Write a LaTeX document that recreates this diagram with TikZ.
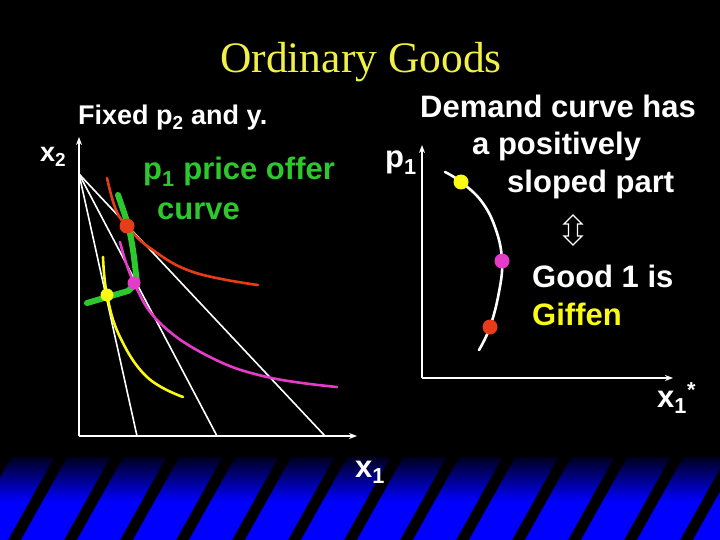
\documentclass[tikz,border=0pt]{standalone}
\usepackage{fontspec}
\setmainfont{Liberation Serif}
\setsansfont{Liberation Sans}
\usetikzlibrary{arrows.meta, shapes.arrows}

\definecolor{titleyellow}{RGB}{240,240,70}
\definecolor{offergreen}{RGB}{45,200,45}
\definecolor{curvered}{RGB}{232,60,25}
\definecolor{curvemagenta}{RGB}{228,60,200}
\definecolor{curveyellow}{RGB}{250,250,20}
\definecolor{bandtop}{RGB}{0,0,30}

\tikzset{
	txt/.style={text=white, inner sep=0pt, anchor=base west, font=\sffamily\bfseries\fontsize{31}{31}\selectfont},
	smalltxt/.style={txt, font=\sffamily\bfseries\fontsize{27}{27}\selectfont},
	axis/.style={white, line width=1.6pt, -{Stealth[length=8pt, width=6pt]}},
	budget/.style={white, line width=1.6pt},
	indiff/.style={line width=2.6pt, line cap=round},
	dot/.style={circle, inner sep=0pt, minimum size=15pt},
}

\begin{document}
\begin{tikzpicture}[x=1pt, y=-1pt]
	\useasboundingbox (0,0) rectangle (720,540);
	\fill[black] (0,0) rectangle (720,540);
	% Blue band with stripes:
	\shade[top color=bandtop, bottom color=blue] (0,457) rectangle (720,502);
	\fill[blue] (0,501) rectangle (720,540);
	\begin{scope}
		\clip (0,457) rectangle (720,540);
		\foreach \k in {-1,...,13}
			\draw[black, line width=11pt] (10+56*\k, 548) -- (62+56*\k, 455);
	\end{scope}

	% Title and texts:
	\node[text=titleyellow, inner sep=0pt, anchor=base, font=\rmfamily\fontsize{43.5}{43.5}\selectfont] (title) at (361,73) {Ordinary Goods};
	\node[smalltxt] (fixed) at (78,125) {Fixed p\textsubscript{2} and y.};
	\node[smalltxt] (xtwo) at (40,162) {x\textsubscript{2}};
	\node[txt, text=offergreen] (offer) at (143,180) {p\textsubscript{1} price offer};
	\node[txt, text=offergreen] (offercurve) at (157,219) {curve};
	\node[txt] (demand) at (420,118) {Demand curve has};
	\node[txt] (positively) at (472,155) {a positively};
	\node[txt] (sloped) at (507,193) {sloped part};
	\node[txt] (good) at (532,287) {Good 1 is};
	\node[txt, text=curveyellow] (giffen) at (532,325) {Giffen};
	\node[txt] (pone) at (385,168) {p\textsubscript{1}};
	\node[txt] (xonestar) at (657,407) {x\textsubscript{1}\textsuperscript{*}};
	\node[txt] (xone) at (355,477) {x\textsubscript{1}};
	\node[double arrow, draw=white, line width=1.3pt, rotate=90, minimum height=30pt, minimum width=18pt, inner sep=3.5pt, double arrow head extend=4pt] (iff) at (573,230) {};

	% Left diagram: axes and budget lines
	\coordinate (otwo) at (79,436);
	\coordinate (ytwo) at (79,137);
	\coordinate (xtwoend) at (357,436);
	\draw[axis] (otwo) -- (ytwo);
	\draw[axis] (otwo) -- (xtwoend);
	\coordinate (bzero) at (79,174);
	\coordinate (bsteep) at (137,436);
	\coordinate (bmid) at (217,436);
	\coordinate (bflat) at (325,436);
	\draw[budget] (bzero) -- (bsteep);
	\draw[budget] (bzero) -- (bmid);
	\draw[budget] (bzero) -- (bflat);

	% Indifference curves
	\draw[indiff, curvered] plot[smooth, tension=0.7] coordinates {(107,178) (116,210) (128,227) (150,248) (193,272) (258,285)};
	\draw[indiff, curvemagenta] plot[smooth, tension=0.7] coordinates {(120,242) (134,283) (160,323) (210,357) (267,377) (337,387)};
	\draw[indiff, curveyellow] plot[smooth, tension=0.7] coordinates {(103,257) (107,295) (120,337) (147,377) (183,397)};

	% Price offer curve
	\draw[offergreen, line width=6pt, line cap=round, line join=round] plot[smooth, tension=0.5] coordinates {(118,195) (128,225) (133,250) (137,283)} -- (128,291) -- (87,303);
	\node[dot, fill=curvered] (redleft) at (127,226) {};
	\node[dot, fill=curvemagenta, minimum size=13pt] (magleft) at (134,283) {};
	\node[dot, fill=curveyellow, minimum size=13pt] (yelleft) at (107,295) {};

	% Right diagram: axes and demand curve
	\coordinate (oone) at (422,378);
	\coordinate (yone) at (422,145);
	\coordinate (xoneend) at (673,378);
	\draw[axis] (oone) -- (yone);
	\draw[axis] (oone) -- (xoneend);
	\draw[white, line width=2.6pt, line cap=round] plot[smooth, tension=0.7] coordinates {(445,172) (461,182) (482,202) (496,230) (502,261) (499,292) (490,327) (479,350)};
	\node[dot, fill=curveyellow] (yelright) at (461,182) {};
	\node[dot, fill=curvemagenta] (magright) at (502,261) {};
	\node[dot, fill=curvered] (redright) at (490,327) {};
\end{tikzpicture}
\end{document}
